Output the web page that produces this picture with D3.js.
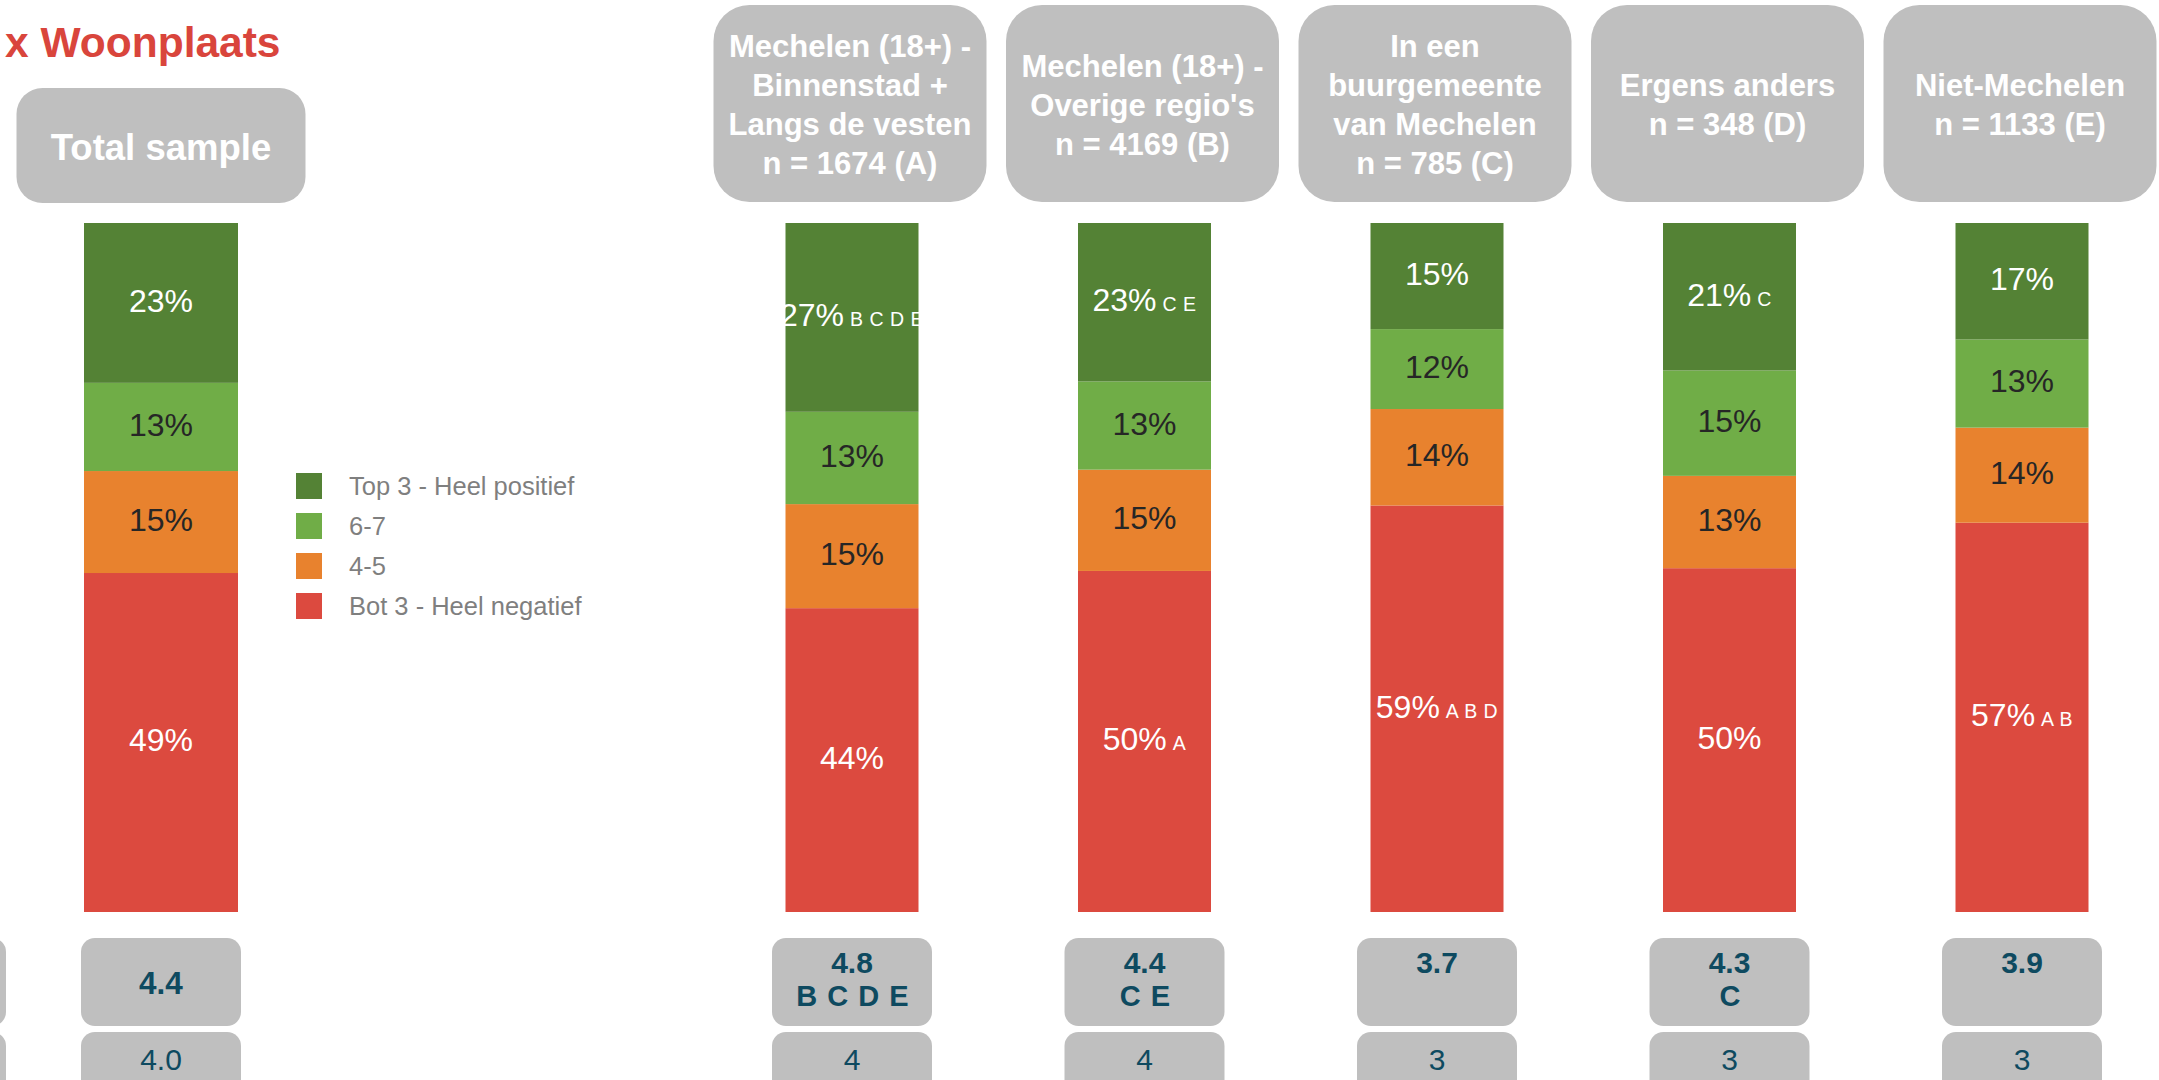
<!DOCTYPE html>
<html>
<head>
<meta charset="utf-8">
<script src="https://cdn.jsdelivr.net/npm/d3@7"></script>
<style>
  body { margin: 0; background: #fff; }
  svg { display: block; font-family: "Liberation Sans", Arial, sans-serif; }
</style>
</head>
<body>
<svg id="chart"></svg>
<script>
// columns: total sample + five groups
const columns = ["Total", "A", "B", "C", "D", "E"];
const headerLines = [
  ["Total sample"],
  ["Mechelen (18+) -", "Binnenstad +", "Langs de vesten", "n = 1674 (A)"],
  ["Mechelen (18+) -", "Overige regio's", "n = 4169 (B)"],
  ["In een", "buurgemeente", "van Mechelen", "n = 785 (C)"],
  ["Ergens anders", "n = 348 (D)"],
  ["Niet-Mechelen", "n = 1133 (E)"]
];
const seriesNames = ["Bot 3 - Heel negatief", "4-5", "6-7", "Top 3 - Heel positief"];
const bot3 = [49.2, 44.1, 49.5, 59.0, 49.9, 56.5];
const mid45 = [14.8, 15.1, 14.7, 14.0, 13.4, 13.8];
const mid67 = [12.8, 13.4, 12.8, 11.6, 15.3, 12.8];
const top3 = [23.2, 27.4, 23.0, 15.4, 21.4, 16.9];
const bot3Sig = ["", "", "A", "A B D", "", "A B"];
const top3Sig = ["", "B C D E", "C E", "", "C", ""];
const means = ["4.4", "4.8", "4.4", "3.7", "4.3", "3.9"];
const meanSig = ["", "B C D E", "C E", "", "C", ""];
const medians = ["4.0", "4", "4", "3", "3", "3"];

const W = 2159, H = 1080;
const colors = ["#dc4a3f", "#e8822e", "#70ad47", "#548235"];
const labelColors = ["#ffffff", "#262626", "#262626", "#ffffff"];
const grey = "#bfbfbf", teal = "#0e4a60";

const svg = d3.select("#chart").attr("width", W).attr("height", H);

// horizontal positions
const xGroups = d3.scalePoint().domain(columns.slice(1)).range([852, 2022]);
const cx = c => c === "Total" ? 161 : xGroups(c);
const barW = c => c === "Total" ? 154 : 133;

const y = d3.scaleLinear().domain([0, 100]).range([912, 223]);

const rows = columns.map((c, i) => ({ col: c, i: i, v: [bot3[i], mid45[i], mid67[i], top3[i]] }));
const stack = d3.stack().keys([0, 1, 2, 3]).value((d, k) => d.v[k]);
const layers = stack(rows);

// title
svg.append("text")
  .attr("x", 5).attr("y", 57)
  .attr("fill", "#d9453c")
  .style("font-size", "42.5px").style("font-weight", "bold")
  .text("x Woonplaats");

// header boxes
const head = svg.append("g").selectAll("g").data(rows).join("g");
head.append("rect")
  .attr("x", d => d.col === "Total" ? cx(d.col) - 144.5 : cx(d.col) - 138.5)
  .attr("y", d => d.col === "Total" ? 88 : 5)
  .attr("width", d => d.col === "Total" ? 289 : 273)
  .attr("height", d => d.col === "Total" ? 115 : 197)
  .attr("rx", d => d.col === "Total" ? 26 : 36)
  .attr("fill", grey);
head.each(function (d) {
  const lines = headerLines[d.i];
  const total = d.col === "Total";
  const lh = 39, mid = total ? 147 : 104.5;
  d3.select(this).append("text")
    .attr("text-anchor", "middle")
    .attr("fill", "#fff")
    .style("font-weight", "bold")
    .style("font-size", total ? "36.5px" : "31px")
    .selectAll("tspan").data(lines).join("tspan")
    .attr("x", cx(d.col) - (total ? 0 : 2))
    .attr("y", (l, j) => mid + (j - (lines.length - 1) / 2) * lh)
    .attr("dy", "0.36em")
    .text(l => l);
});

// bars
const layerG = svg.append("g").selectAll("g").data(layers).join("g")
  .attr("fill", (d, k) => colors[k]);
layerG.selectAll("rect").data(d => d).join("rect")
  .attr("x", d => cx(d.data.col) - barW(d.data.col) / 2)
  .attr("width", d => barW(d.data.col))
  .attr("y", d => y(d[1]))
  .attr("height", d => y(d[0]) - y(d[1]));

// segment labels
layers.forEach((layer, k) => {
  const t = svg.append("g").selectAll("text").data(layer).join("text")
    .attr("text-anchor", "middle")
    .attr("x", d => cx(d.data.col))
    .attr("y", d => (y(d[0]) + y(d[1])) / 2)
    .attr("dy", "0.28em")
    .attr("fill", labelColors[k])
    .style("font-size", "32px");
  t.append("tspan").text(d => Math.round(d.data.v[k]) + "%");
  const sig = k === 0 ? bot3Sig : k === 3 ? top3Sig : null;
  if (sig) {
    t.filter(d => sig[d.data.i]).append("tspan")
      .attr("dx", 6)
      .style("font-size", "19.5px")
      .style("letter-spacing", "0.5px")
      .text(d => sig[d.data.i]);
  }
});

// legend
const legend = svg.append("g").selectAll("g").data([3, 2, 1, 0]).join("g")
  .attr("transform", (k, j) => `translate(296,${473 + j * 40})`);
legend.append("rect").attr("width", 26).attr("height", 26).attr("fill", k => colors[k]);
legend.append("text")
  .attr("x", 53).attr("y", 13).attr("dy", "0.36em")
  .attr("fill", "#7f7f7f").style("font-size", "25.5px")
  .text(k => seriesNames[k]);

// mean / median boxes (incl. cut-off column at left edge)
const boxCols = [{ c: -74, mean: null, med: null, sig: "" }].concat(
  rows.map(d => ({ c: cx(d.col), mean: means[d.i], med: medians[d.i], sig: meanSig[d.i], total: d.col === "Total" })));
const bx = svg.append("g").selectAll("g").data(boxCols).join("g");
bx.append("rect")
  .attr("x", d => d.c - 80).attr("y", 938).attr("width", 160).attr("height", 88)
  .attr("rx", 14).attr("fill", grey);
bx.append("rect")
  .attr("x", d => d.c - 80).attr("y", 1032).attr("width", 160).attr("height", 80)
  .attr("rx", 14).attr("fill", grey);
bx.filter(d => d.mean).each(function (d) {
  const g = d3.select(this);
  g.append("text")
    .attr("text-anchor", "middle").attr("x", d.c)
    .attr("y", d.total ? 983 : 962.5).attr("dy", "0.36em")
    .attr("fill", teal).style("font-weight", "bold")
    .style("font-size", d.total ? "31.5px" : "30px")
    .text(d.mean);
  if (d.sig) {
    g.append("text")
      .attr("text-anchor", "middle").attr("x", d.c + 1)
      .attr("y", 996).attr("dy", "0.36em")
      .attr("fill", teal).style("font-weight", "bold")
      .style("font-size", "29px").style("letter-spacing", "1px")
      .text(d.sig);
  }
  g.append("text")
    .attr("text-anchor", "middle").attr("x", d.c)
    .attr("y", 1059).attr("dy", "0.36em")
    .attr("fill", teal).style("font-size", "30px")
    .text(d.med);
});
</script>
</body>
</html>
